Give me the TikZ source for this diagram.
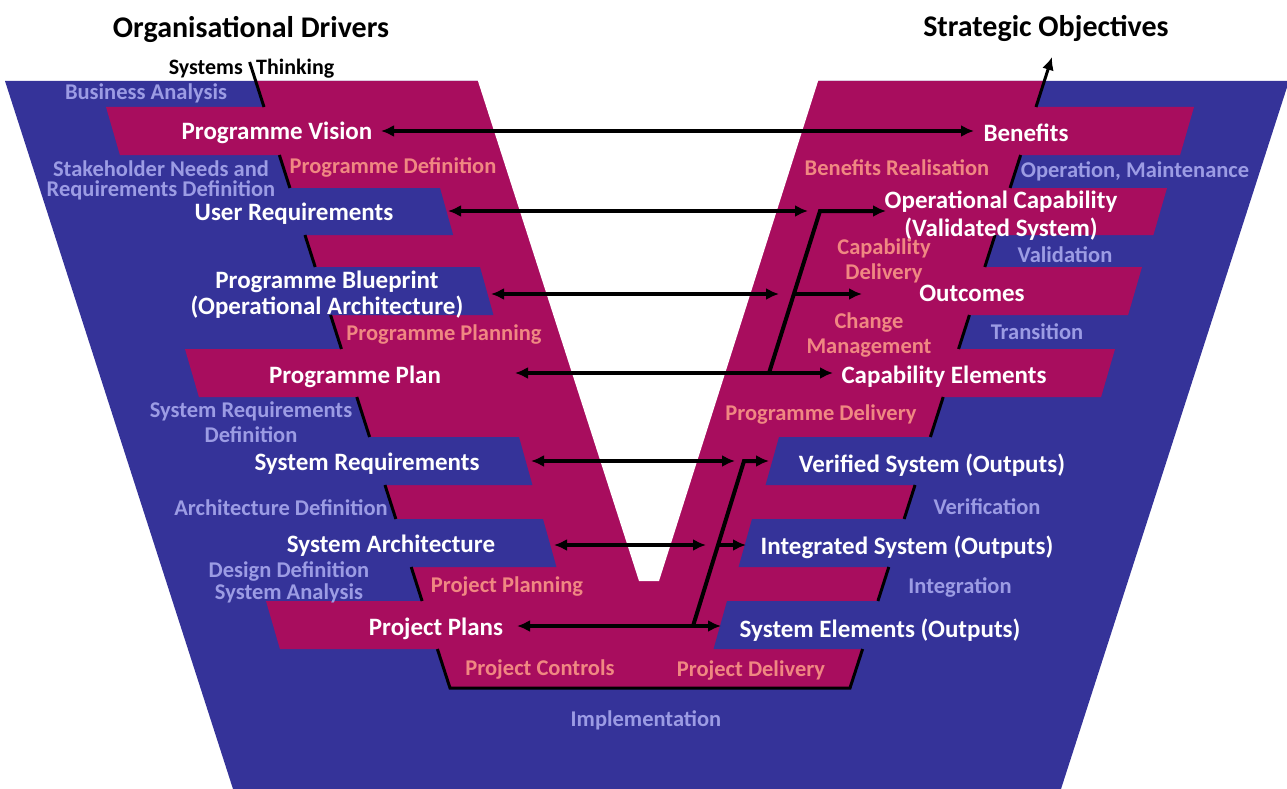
\documentclass[tikz,border=0pt]{standalone}
\usepackage{fontspec}
\setmainfont{Carlito}
\usetikzlibrary{arrows.meta}
\definecolor{vblue}{RGB}{53,51,153}
\definecolor{vmagenta}{RGB}{168,13,94}
\definecolor{vsalmon}{RGB}{240,136,130}
\definecolor{vlilac}{RGB}{156,156,228}

\begin{document}
\begin{tikzpicture}[x=1pt,y=-1pt,
                wlabel/.style={text=white,font=\bfseries\fontsize{25}{27}\selectfont,align=center,yshift=-2pt},
                slabel/.style={text=vsalmon,font=\bfseries\fontsize{22.5}{25.5}\selectfont,align=center,yshift=-2pt},
                llabel/.style={text=vlilac,font=\bfseries\fontsize{22.5}{25.5}\selectfont,align=center,yshift=-2pt},
                title/.style={text=black,font=\bfseries\fontsize{30}{34}\selectfont,yshift=-2pt},
                link/.style={line width=4pt,{Latex[length=13pt,width=12pt]}-{Latex[length=13pt,width=12pt]}},
                tolink/.style={line width=4pt,-{Latex[length=13pt,width=12pt]}},
                stair/.style={line width=3pt}]
                \tikzstyle{every node}+=[inner sep=0pt]
                \useasboundingbox (0,0) rectangle (1287,789);
                % the V
                \fill [vblue] (5,81) -- (1289,81) -- (1061,789) -- (233,789) -- cycle;
                \fill [vmagenta] (256,81) -- (1044,81) -- (850,688) -- (450,688) -- cycle;
                % left boxes
                \foreach \t/\b/\r in {188/235/440,267/315/480,437/485/519,519/567/543}
                    \fill [vblue] (200,\t) -- (\r,\t) -- ({\r+0.28*(\b-\t)},\b) -- (200,\b) -- cycle;
                \foreach \t/\b/\l/\r in {107/155/106/330,349/397/185/400,601/649/266/480}
                    \fill [vmagenta] (\l,\t) -- (\r,\t) -- (\r,\b) -- ({\l+0.29*(\b-\t)},\b) -- cycle;
                % right boxes
                \foreach \t/\b/\r in {107/155/1194,188/235/1167,267/315/1142,349/397/1115}
                    \fill [vmagenta] (900,\t) -- (\r,\t) -- ({\r-0.29*(\b-\t)},\b) -- (900,\b) -- cycle;
                \foreach \t/\b/\l in {437/485/779,519/567/752,601/649/727}
                    \fill [vblue] (\l,\t) -- (1000,\t) -- (1000,\b) -- ({\l-0.28*(\b-\t)},\b) -- cycle;
                \fill [white] (476,75) -- (820,75) -- (659,581) -- (639,581) -- cycle;
                % stair lines
                \foreach \a/\b in {155/188,235/267,315/349,397/437,485/519,567/601}
                {
                    \draw [stair] ({264+0.32*(\a-107)},\a) -- ({264+0.32*(\b-107)},\b);
                    \draw [stair] ({1036-0.32*(\a-107)},\a) -- ({1036-0.32*(\b-107)},\b);
                }
                \draw [stair] (437.4,649) -- (450,688) -- (850,688) -- (862.6,649);
                \draw [stair] (249.6,62) -- (264,107);

                % titles
                \node [title] (drivers) at (251,27) {Organisational Drivers};
                \node [title] (objectives) at (1046,26) {Strategic Objectives};
                \node [font=\bfseries\fontsize{22}{25}\selectfont,anchor=east,yshift=-2pt] (systems) at (243,67) {Systems};
                \node [font=\bfseries\fontsize{22}{25}\selectfont,anchor=west,yshift=-2pt] (thinking) at (256,67) {Thinking};
                \coordinate (stTop) at (1052,57);
                \coordinate (stFoot) at (1036,107);
                \draw [tolink,line width=3pt] (stFoot) -- (stTop);

                % white labels
                \node [wlabel] (pv) at (277,131) {Programme Vision};
                \node [wlabel] (ur) at (294,212) {User Requirements};
                \node [wlabel] (pb) at (327,293) {Programme Blueprint\\[-1pt](Operational Architecture)};
                \node [wlabel] (pp) at (355,375) {Programme Plan};
                \node [wlabel] (sr) at (367,462) {System Requirements};
                \node [wlabel] (sa) at (391,544) {System Architecture};
                \node [wlabel] (pj) at (436,627) {Project Plans};
                \node [wlabel] (ben) at (1026,131) {Benefits};
                \node [wlabel] (oc) at (1001,214) {Operational Capability\\[1pt](Validated System)};
                \node [wlabel] (out) at (972,291) {Outcomes};
                \node [wlabel] (ce) at (944,375) {Capability Elements};
                \node [wlabel] (vs) at (932,463) {Verified System (Outputs)};
                \node [wlabel] (is) at (907,545) {Integrated System (Outputs)};
                \node [wlabel] (se) at (880,628) {System Elements (Outputs)};

                % salmon labels
                \node [slabel] (pdef) at (393,165) {Programme Definition};
                \node [slabel] (pplan) at (444,333) {Programme Planning};
                \node [slabel] (prplan) at (507,585) {Project Planning};
                \node [slabel] (prctrl) at (540,667) {Project Controls};
                \node [slabel] (prdel) at (751,668) {Project Delivery};
                \node [slabel] (pgdel) at (821,413) {Programme Delivery};
                \node [slabel] (chm) at (869,333) {Change\\Management};
                \node [slabel] (capd) at (884,259) {Capability\\[-0.5pt]Delivery};
                \node [slabel] (benr) at (897,166) {Benefits Realisation};

                % lilac labels
                \node [llabel] (ba) at (146,91) {Business Analysis};
                \node [llabel] (snrd) at (161,178) {Stakeholder Needs and\\[-5.5pt]Requirements Definition};
                \node [llabel] (srd) at (251,420) {System Requirements\\Definition};
                \node [llabel] (ad) at (281,506) {Architecture Definition};
                \node [llabel] (ddsa) at (289,580) {Design Definition\\[-3.5pt]System Analysis};
                \node [llabel] (impl) at (646,718) {Implementation};
                \node [llabel] (om) at (1135,169) {Operation, Maintenance};
                \node [llabel] (val) at (1065,253) {Validation};
                \node [llabel] (tra) at (1037,330) {Transition};
                \node [llabel] (ver) at (987,505) {Verification};
                \node [llabel] (int) at (960,585) {Integration};

                % arrow ends
                \coordinate (pvE) at (381,131);   \coordinate (benW) at (974,131);
                \coordinate (urE) at (448,211);   \coordinate (urT) at (808,211);
                \coordinate (pbE) at (491,294);   \coordinate (pbT) at (779,294);
                \coordinate (ppE) at (515,373);   \coordinate (ceW) at (833,373);
                \coordinate (ceJ) at (769,373);   \coordinate (ocJ) at (820,211);
                \coordinate (ocW) at (886,211);
                \coordinate (outJ) at (794,294);  \coordinate (outW) at (862,294);
                \coordinate (srE) at (531,461);   \coordinate (srT) at (735,461);
                \coordinate (saE) at (554,545);   \coordinate (saT) at (706,545);
                \coordinate (pjE) at (517,626);   \coordinate (seW) at (721,626);
                \coordinate (seJ) at (693,626);   \coordinate (vsJ) at (744,461);
                \coordinate (vsW) at (769,461);
                \coordinate (isJ) at (718,545);   \coordinate (isW) at (746,545);

                % arrows
                \draw [link] (pvE) -- (benW);
                \draw [link] (urE) -- (urT);
                \draw [link] (pbE) -- (pbT);
                \draw [link] (ppE) -- (ceW);
                \draw [tolink] (ceJ) -- (ocJ) -- (ocW);
                \draw [tolink] (outJ) -- (outW);
                \draw [link] (srE) -- (srT);
                \draw [link] (saE) -- (saT);
                \draw [link] (pjE) -- (seW);
                \draw [tolink] (seJ) -- (vsJ) -- (vsW);
                \draw [tolink] (isJ) -- (isW);
\end{tikzpicture}
\end{document}
